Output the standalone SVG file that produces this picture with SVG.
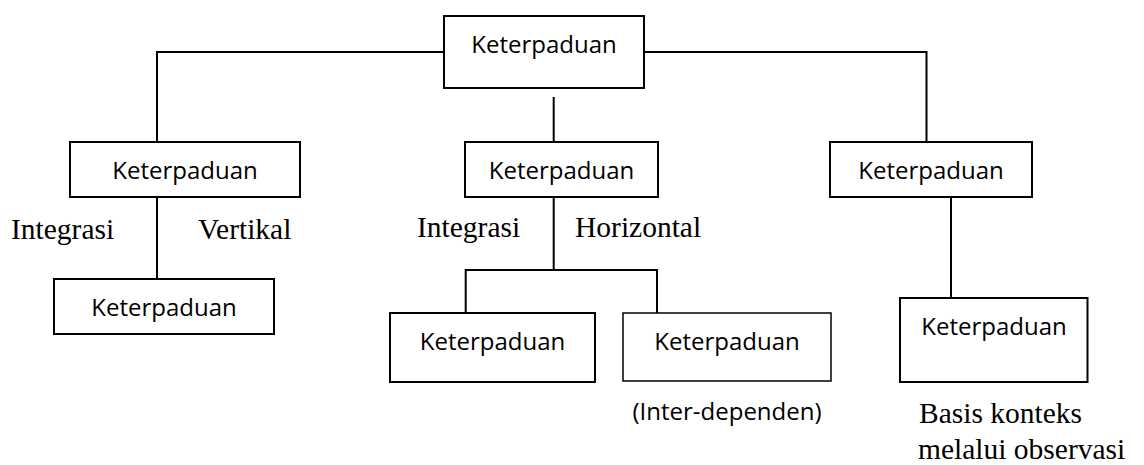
<svg xmlns="http://www.w3.org/2000/svg" width="1144" height="465" viewBox="0 0 1144 465">
<style>
.box{fill:#fff;stroke:#000;stroke-width:2}
.lbl{font-family:"Open Sans","Liberation Sans",sans-serif;font-size:24px;fill:#000;text-anchor:middle}
.ser{font-family:"Liberation Serif","Times New Roman",serif;font-size:29.5px;fill:#000}
.con{fill:none;stroke:#000;stroke-width:2}
</style>
<rect width="1144" height="465" fill="#fff"/>
<g id="connectors">
<path class="con" d="M157,142 V52 H444 M644,52 H926.5 V142"/>
<path class="con" d="M553.7,97 V142"/>
<path class="con" d="M157,197 V279"/>
<path class="con" d="M553.7,197 V270 M465.7,313 V270 H657 V313"/>
<path class="con" d="M951,197 V298"/>
</g>
<g id="n-top"><rect class="box" x="444" y="16" width="200" height="72"/><text class="lbl" x="544" y="53">Keterpaduan</text></g>
<g id="n-left"><rect class="box" x="70" y="142" width="230" height="55"/><text class="lbl" x="185" y="179">Keterpaduan</text></g>
<g id="n-mid"><rect class="box" x="465" y="142" width="193" height="55"/><text class="lbl" x="561.5" y="179">Keterpaduan</text></g>
<g id="n-right"><rect class="box" x="830" y="142" width="202" height="55"/><text class="lbl" x="931" y="179">Keterpaduan</text></g>
<g id="n-left-child"><rect class="box" x="54" y="279" width="220" height="55"/><text class="lbl" x="164" y="316">Keterpaduan</text></g>
<g id="n-mid-child1"><rect class="box" x="390" y="313" width="205" height="69"/><text class="lbl" x="492.5" y="350">Keterpaduan</text></g>
<g id="n-mid-child2"><rect class="box" x="623" y="313" width="208" height="68" style="stroke-width:1.5"/><text class="lbl" x="727" y="350">Keterpaduan</text></g>
<g id="n-right-child"><rect class="box" x="900" y="298" width="187.5" height="84"/><text class="lbl" x="994" y="335">Keterpaduan</text></g>
<g id="labels">
<text class="ser" x="11" y="239">Integrasi</text>
<text class="ser" x="198" y="239">Vertikal</text>
<text class="ser" x="417" y="237">Integrasi</text>
<text class="ser" x="575" y="237">Horizontal</text>
<text class="lbl" x="727" y="420">(Inter-dependen)</text>
<text class="ser" x="919" y="423">Basis konteks</text>
<text class="ser" x="918" y="459">melalui observasi</text>
</g>
</svg>
